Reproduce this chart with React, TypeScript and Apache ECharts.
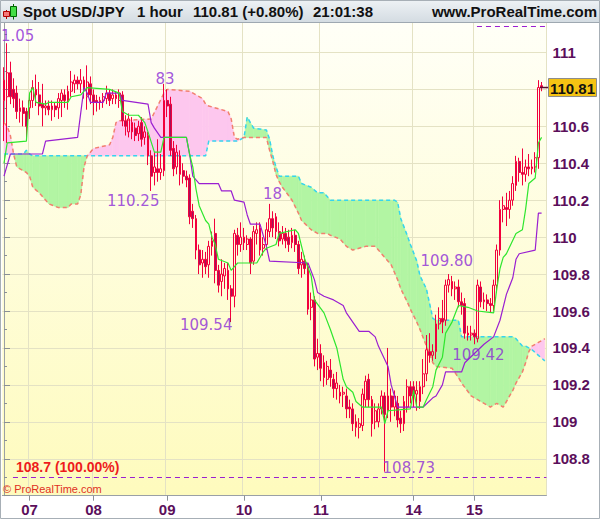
import React, { useEffect, useRef } from 'react';
import * as echarts from 'echarts';

// Hourly USD/JPY candles: [open, close, low, high]
const candles: [number, number, number, number][] = [
  [110.74, 110.85, 110.52, 110.92], [110.76, 110.89, 110.51, 111.05], [110.89, 110.76, 110.72, 110.95],
  [110.80, 110.75, 110.70, 110.86], [110.78, 110.68, 110.64, 110.82], [110.68, 110.70, 110.62, 110.75],
  [110.70, 110.67, 110.60, 110.74], [110.68, 110.60, 110.54, 110.70], [110.70, 110.74, 110.64, 110.77],
  [110.74, 110.81, 110.70, 110.85], [110.80, 110.77, 110.71, 110.88], [110.77, 110.71, 110.66, 110.84],
  [110.72, 110.70, 110.60, 110.83], [110.70, 110.71, 110.66, 110.74], [110.71, 110.69, 110.66, 110.74],
  [110.69, 110.71, 110.63, 110.74], [110.71, 110.69, 110.65, 110.73], [110.70, 110.75, 110.64, 110.78],
  [110.74, 110.78, 110.65, 110.80], [110.77, 110.74, 110.70, 110.80], [110.74, 110.79, 110.69, 110.82],
  [110.79, 110.84, 110.76, 110.90], [110.83, 110.85, 110.78, 110.88], [110.85, 110.83, 110.80, 110.87],
  [110.83, 110.85, 110.78, 110.91], [110.85, 110.80, 110.75, 110.87], [110.76, 110.84, 110.69, 110.93],
  [110.83, 110.77, 110.72, 110.87], [110.77, 110.73, 110.66, 110.80], [110.74, 110.73, 110.68, 110.77],
  [110.73, 110.74, 110.69, 110.76], [110.74, 110.76, 110.70, 110.78], [110.75, 110.78, 110.72, 110.82],
  [110.78, 110.74, 110.71, 110.80], [110.75, 110.77, 110.72, 110.80], [110.77, 110.75, 110.72, 110.79],
  [110.74, 110.78, 110.70, 110.80], [110.77, 110.63, 110.60, 110.79], [110.63, 110.60, 110.55, 110.66],
  [110.57, 110.64, 110.54, 110.67], [110.62, 110.57, 110.53, 110.65], [110.59, 110.55, 110.52, 110.62],
  [110.56, 110.60, 110.52, 110.63], [110.62, 110.53, 110.49, 110.65], [110.54, 110.57, 110.50, 110.60],
  [110.55, 110.44, 110.39, 110.57], [110.44, 110.33, 110.25, 110.47], [110.35, 110.38, 110.28, 110.46],
  [110.37, 110.35, 110.30, 110.53], [110.35, 110.37, 110.31, 110.45], [110.36, 110.74, 110.33, 110.83],
  [110.74, 110.71, 110.65, 110.80], [110.72, 110.47, 110.44, 110.76], [110.48, 110.37, 110.33, 110.52],
  [110.38, 110.46, 110.34, 110.50], [110.44, 110.34, 110.28, 110.47], [110.36, 110.33, 110.29, 110.40],
  [110.33, 110.31, 110.27, 110.36], [110.32, 110.11, 110.07, 110.34], [110.14, 110.10, 110.05, 110.18],
  [110.10, 109.93, 109.88, 110.12], [109.93, 109.85, 109.80, 109.96], [109.86, 109.88, 109.78, 109.93],
  [109.88, 109.84, 109.80, 109.92], [109.85, 109.95, 109.78, 109.98], [109.95, 109.98, 109.90, 110.03],
  [110.02, 109.82, 109.75, 110.10], [109.82, 109.74, 109.70, 109.85], [109.76, 109.80, 109.68, 109.88],
  [109.79, 109.83, 109.72, 109.86], [109.82, 109.72, 109.66, 109.86], [109.72, 109.68, 109.54, 109.74],
  [109.68, 110.02, 109.62, 110.04], [110.01, 109.96, 109.90, 110.05], [109.96, 110.00, 109.92, 110.08],
  [110.00, 109.97, 109.93, 110.05], [109.96, 109.99, 109.93, 110.01], [109.99, 109.86, 109.80, 110.00],
  [109.87, 110.03, 109.85, 110.06], [110.02, 110.04, 109.96, 110.08], [110.05, 109.93, 109.90, 110.08],
  [109.94, 109.96, 109.90, 110.00], [109.96, 110.04, 109.93, 110.08], [110.03, 110.10, 110.00, 110.18],
  [110.10, 110.05, 110.00, 110.14], [110.11, 110.03, 109.99, 110.13], [110.03, 109.98, 109.95, 110.08],
  [109.99, 110.02, 109.96, 110.06], [110.02, 109.98, 109.94, 110.05], [110.00, 109.96, 109.92, 110.04],
  [109.97, 110.01, 109.94, 110.05], [110.01, 109.96, 109.92, 110.04], [109.96, 109.83, 109.80, 109.98],
  [109.85, 109.88, 109.78, 109.92], [109.87, 109.83, 109.80, 109.90], [109.84, 109.61, 109.58, 109.86],
  [109.62, 109.66, 109.55, 109.70], [109.66, 109.34, 109.30, 109.68], [109.35, 109.37, 109.28, 109.45],
  [109.37, 109.29, 109.22, 109.42], [109.32, 109.24, 109.19, 109.36], [109.23, 109.30, 109.20, 109.33],
  [109.28, 109.24, 109.19, 109.34], [109.23, 109.18, 109.13, 109.26], [109.18, 109.21, 109.12, 109.27],
  [109.16, 109.14, 109.10, 109.20], [109.15, 109.16, 109.08, 109.19], [109.14, 109.07, 109.02, 109.18],
  [109.08, 109.07, 109.02, 109.12], [109.07, 108.99, 108.95, 109.10], [109.00, 108.97, 108.92, 109.04],
  [108.97, 108.99, 108.91, 109.02], [108.98, 109.15, 108.95, 109.18], [109.12, 109.22, 109.08, 109.25],
  [109.23, 109.12, 109.08, 109.26], [109.12, 108.99, 108.92, 109.14], [109.00, 109.06, 108.96, 109.10],
  [109.00, 109.07, 108.97, 109.10], [109.07, 109.14, 109.04, 109.17], [109.14, 109.04, 108.73, 109.16],
  [109.06, 109.14, 109.02, 109.40], [109.14, 109.08, 109.00, 109.18], [109.08, 109.14, 109.03, 109.17],
  [109.10, 109.01, 108.97, 109.14], [109.02, 108.99, 108.94, 109.06], [108.99, 109.11, 108.95, 109.14],
  [109.08, 109.19, 109.05, 109.23], [109.19, 109.14, 109.10, 109.22], [109.19, 109.15, 109.08, 109.22],
  [109.15, 109.17, 109.06, 109.22], [109.11, 109.19, 109.07, 109.22], [109.19, 109.26, 109.15, 109.34],
  [109.26, 109.39, 109.22, 109.47], [109.38, 109.36, 109.32, 109.48], [109.36, 109.38, 109.33, 109.42],
  [109.38, 109.53, 109.34, 109.58], [109.53, 109.56, 109.50, 109.62], [109.56, 109.54, 109.48, 109.66],
  [109.55, 109.74, 109.52, 109.77], [109.74, 109.77, 109.70, 109.80], [109.76, 109.72, 109.68, 109.79],
  [109.72, 109.73, 109.66, 109.76], [109.73, 109.65, 109.62, 109.77], [109.65, 109.63, 109.58, 109.70],
  [109.64, 109.48, 109.45, 109.67], [109.48, 109.47, 109.44, 109.52], [109.47, 109.48, 109.44, 109.52],
  [109.48, 109.46, 109.42, 109.50], [109.45, 109.74, 109.43, 109.77], [109.73, 109.65, 109.62, 109.76],
  [109.65, 109.66, 109.61, 109.70], [109.66, 109.64, 109.60, 109.69], [109.64, 109.63, 109.59, 109.67],
  [109.63, 109.74, 109.60, 109.77], [109.74, 109.93, 109.70, 109.96], [109.93, 110.15, 109.90, 110.20],
  [110.15, 110.17, 110.08, 110.22], [110.16, 110.15, 110.06, 110.24], [110.15, 110.20, 110.10, 110.25],
  [110.20, 110.29, 110.17, 110.33], [110.28, 110.41, 110.25, 110.44], [110.41, 110.35, 110.30, 110.43],
  [110.35, 110.34, 110.28, 110.48], [110.34, 110.38, 110.30, 110.42], [110.38, 110.37, 110.33, 110.45],
  [110.37, 110.38, 110.34, 110.42], [110.38, 110.43, 110.35, 110.46], [110.43, 110.81, 110.37, 110.85],
  [110.82, 110.81, 110.79, 110.84],
];

// One slot per hour; the cloud runs one slot past the last candle
const slotCount = 170;
const dayLabels = ['07', '08', '09', '10', '11', '14', '15'];
const dayStartIdx = [8, 28, 51, 75, 99, 128, 147];

// Ichimoku conversion line (tenkan) and base line (kijun): [slot, price]
const tenkan: [number, number][] = [
  [0, 110.40], [1, 110.51], [7, 110.52], [8, 110.78], [9, 110.81], [10, 110.73], [13, 110.72], [14, 110.73],
  [20, 110.73], [21, 110.76], [24, 110.77], [26, 110.81], [33, 110.80], [36, 110.78], [37, 110.68], [39, 110.66],
  [42, 110.66], [44, 110.62], [45, 110.57], [47, 110.46], [49, 110.46], [50, 110.54], [57, 110.54], [58, 110.45],
  [59, 110.38], [60, 110.26], [61, 110.17], [63, 110.09], [64, 110.07], [65, 110.00], [66, 109.96], [67, 109.88],
  [70, 109.86], [71, 109.82], [72, 109.84], [73, 109.86], [79, 109.86], [81, 109.92], [82, 109.94], [85, 109.96],
  [86, 110.02], [91, 110.04], [92, 110.02], [93, 109.95], [94, 109.88], [96, 109.79], [97, 109.66], [100, 109.59],
  [102, 109.50], [104, 109.40], [106, 109.23], [107, 109.19], [109, 109.16], [110, 109.11], [112, 109.08],
  [118, 109.08], [119, 108.99], [120, 109.06], [127, 109.07], [128, 109.17], [129, 109.08], [131, 109.08],
  [132, 109.12], [134, 109.19], [135, 109.28], [137, 109.35], [138, 109.48], [140, 109.54], [142, 109.63],
  [145, 109.62], [148, 109.60], [153, 109.59], [154, 109.72], [155, 109.83], [156, 109.89], [157, 109.91],
  [160, 110.02], [162, 110.04], [163, 110.15], [164, 110.29], [166, 110.32], [167, 110.51], [168, 110.54],
];

const kijun: [number, number][] = [
  [0, 110.33], [2, 110.45], [12, 110.45], [13, 110.52], [23, 110.54], [25, 110.81], [26, 110.78], [27, 110.73],
  [31, 110.73], [32, 110.78], [36, 110.78], [37, 110.74], [45, 110.72], [46, 110.62], [47, 110.59], [49, 110.54],
  [57, 110.54], [58, 110.45], [59, 110.33], [61, 110.29], [67, 110.29], [68, 110.25], [71, 110.25], [72, 110.20],
  [75, 110.19], [76, 110.12], [77, 110.07], [80, 110.07], [82, 109.95], [83, 109.87], [95, 109.86], [97, 109.77],
  [98, 109.70], [100, 109.68], [103, 109.66], [106, 109.63], [107, 109.59], [111, 109.49], [114, 109.49],
  [116, 109.46], [117, 109.41], [120, 109.30], [121, 109.20], [123, 109.08], [131, 109.08], [134, 109.13],
  [135, 109.14], [137, 109.20], [138, 109.27], [143, 109.27], [144, 109.32], [150, 109.42], [153, 109.46],
  [155, 109.55], [157, 109.69], [159, 109.78], [160, 109.88], [161, 109.91], [166, 109.93], [167, 110.13],
  [168, 110.13],
];

// Cloud (leading spans A and B, already shifted forward), sampled at shared slots
const cloudIdx = [
  0, 1, 2, 3, 4, 5, 6, 7, 8, 9, 11, 14, 17, 20, 21, 23, 24, 25, 26, 28, 33, 34, 35, 36, 46, 50, 51, 58, 62, 63,
  64, 70, 71, 72, 73, 75, 76, 78, 82, 83, 84, 85, 86, 87, 90, 92, 93, 96, 98, 100, 101, 102, 105, 107, 109, 113,
  116, 117, 121, 122, 123, 124, 126, 127, 129, 130, 132, 133, 134, 135, 140, 142, 143, 146, 148, 152, 154, 156,
  158, 159, 160, 162, 163, 164, 165, 167, 169,
];
const spanA = [
  110.45, 110.45, 110.45, 110.45, 110.45, 110.45, 110.45, 110.47, 110.45, 110.44, 110.44, 110.44, 110.44, 110.44,
  110.44, 110.44, 110.44, 110.44, 110.44, 110.44, 110.44, 110.44, 110.44, 110.44, 110.44, 110.44, 110.44, 110.44,
  110.44, 110.44, 110.52, 110.52, 110.52, 110.52, 110.52, 110.54, 110.65, 110.59, 110.58, 110.53, 110.44, 110.38,
  110.33, 110.33, 110.33, 110.33, 110.29, 110.27, 110.24, 110.24, 110.22, 110.20, 110.20, 110.20, 110.20, 110.20,
  110.20, 110.20, 110.20, 110.20, 110.19, 110.10, 110.01, 109.96, 109.87, 109.79, 109.72, 109.64, 109.56, 109.55,
  109.55, 109.55, 109.46, 109.46, 109.46, 109.46, 109.46, 109.46, 109.46, 109.46, 109.45, 109.41, 109.41, 109.40,
  109.39, 109.36, 109.33,
];
const spanB = [
  110.62, 110.60, 110.55, 110.45, 110.38, 110.37, 110.36, 110.35, 110.33, 110.27, 110.24, 110.18, 110.16, 110.16,
  110.18, 110.18, 110.23, 110.38, 110.44, 110.48, 110.50, 110.54, 110.62, 110.63, 110.64, 110.78, 110.80, 110.79,
  110.75, 110.72, 110.71, 110.68, 110.64, 110.54, 110.53, 110.54, 110.54, 110.54, 110.54, 110.47, 110.41, 110.34,
  110.30, 110.27, 110.20, 110.13, 110.09, 110.04, 110.02, 110.02, 110.02, 110.01, 109.99, 109.95, 109.93, 109.95,
  109.95, 109.93, 109.85, 109.81, 109.77, 109.72, 109.65, 109.61, 109.54, 109.50, 109.41, 109.37, 109.32, 109.30,
  109.29, 109.24, 109.21, 109.14, 109.12, 109.08, 109.10, 109.08, 109.14, 109.17, 109.21, 109.27, 109.32, 109.38,
  109.41, 109.43, 109.45,
];

// Swing highs / lows that carry a price tag
const swingIdx = [1, 50, 46, 83, 71, 119, 139, 147];
const swingPrice = [111.05, 110.83, 110.25, 110.18, 109.54, 108.73, 109.8, 109.42];
const swingText = ['1.05', '83', '110.25', '18', '109.54', '108.73', '109.80', '109.42'];
const swingOffsets: [number, number][] = [
  [10.5, -7], [1, -5], [-18, 10], [3, -10], [-25, 3], [24, -4], [-2, -13], [4, 11],
];

// Retracement levels
const fibLow = 108.7;
const fibHigh = 111.14;
const fibLowText = '108.7 (100.00%)';

const lastClose = 110.81;
const headerTexts = ['Spot USD/JPY', '1 hour', '110.81 (+0.80%)', '21:01:38'];

const RED = '#f2003c';
const DARK = '#a3125a';
const AXIS_TXT = '#5b0f5b';
const LABEL_PURPLE = '#8b2bd6';
const FIB_PURPLE = '#9a1fd1';
const CLOUD_UP = '#b2f5a3';
const CLOUD_DOWN = '#fdc7ee';
const SANS = "'Liberation Sans', Arial, sans-serif";

// Fill between the two spans, one polygon per segment, split where they cross
function renderCloud(_params: any, api: any) {
  const x0 = api.value(0), a0 = api.value(1), b0 = api.value(2);
  const x1 = api.value(3), a1 = api.value(4), b1 = api.value(5);
  const d0 = a0 - b0;
  const d1 = a1 - b1;
  const poly = (pts: number[][], up: boolean) => {
    const color = up ? CLOUD_UP : CLOUD_DOWN;
    return {
      type: 'polygon',
      shape: { points: pts.map((p) => api.coord(p)) },
      style: { fill: color, stroke: color, lineWidth: 0.6 },
    };
  };
  const children: any[] = [];
  if (d0 * d1 < 0) {
    const t = d0 / (d0 - d1);
    const xm = x0 + t * (x1 - x0);
    const ym = a0 + t * (a1 - a0);
    children.push(poly([[x0, a0], [xm, ym], [x0, b0]], d0 > 0));
    children.push(poly([[xm, ym], [x1, a1], [x1, b1]], d1 > 0));
  } else {
    children.push(poly([[x0, a0], [x1, a1], [x1, b1], [x0, b0]], d0 + d1 >= 0));
  }
  return { type: 'group', children };
}

export default function App() {
  const ref = useRef<HTMLDivElement>(null);

  useEffect(() => {
    const el = ref.current;
    if (!el) return;
    const chart = echarts.init(el, null, { renderer: 'svg' });

    const isDayStart = (index: number) => dayStartIdx.includes(index);
    const slots = Array.from({ length: slotCount }, (_, i) => String(i));

    const cloudSegments = cloudIdx.slice(0, -1).map((x, k) => [
      x, spanA[k], spanB[k], cloudIdx[k + 1], spanA[k + 1], spanB[k + 1],
    ]);

    const fibLineStyle = { color: FIB_PURPLE, width: 1.2, type: [5, 4] };

    const option: any = {
      animation: false,
      grid: {
        left: 2.4,
        right: 53.6,
        top: 15.5,
        bottom: 23.3,
        show: true,
        borderWidth: 0,
        backgroundColor: new echarts.graphic.LinearGradient(0, 0, 0, 1, [
          { offset: 0, color: '#fffff8' },
          { offset: 1, color: '#fefbbd' },
        ]),
      },
      xAxis: [
        {
          type: 'category',
          data: slots,
          boundaryGap: true,
          axisLine: { lineStyle: { color: '#9aa0a6', width: 1 } },
          axisTick: {
            show: true,
            alignWithLabel: true,
            interval: (i: number) => isDayStart(i),
            length: 5,
            lineStyle: { color: '#8a9096' },
          },
          axisLabel: {
            interval: (i: number) => isDayStart(i),
            formatter: (_v: string, i: number) => {
              const k = dayStartIdx.indexOf(i);
              return k >= 0 ? dayLabels[k] : '';
            },
            color: AXIS_TXT,
            fontWeight: 'bold',
            fontSize: 15,
            fontFamily: SANS,
            margin: 6,
          },
          splitLine: {
            show: true,
            interval: (i: number) => isDayStart(i),
            lineStyle: { color: '#e4e2c4', width: 1 },
          },
        },
        {
          type: 'value',
          min: -0.5,
          max: slotCount - 0.5,
          show: false,
        },
      ],
      yAxis: {
        type: 'value',
        position: 'right',
        min: 108.6,
        max: 111.2,
        interval: 0.2,
        axisLine: { show: true, lineStyle: { color: '#9aa0a6' } },
        axisTick: { show: true, length: 6, lineStyle: { color: '#8a9096' } },
        minorTick: { show: true, splitNumber: 2, length: 3, lineStyle: { color: '#8a9096' } },
        splitLine: { show: true, lineStyle: { color: '#e4e2c4', width: 1 } },
        axisLabel: {
          color: AXIS_TXT,
          fontWeight: 'bold',
          fontSize: 15,
          fontFamily: SANS,
          margin: 6,
          formatter: (v: number) =>
            v > 111.1 || v < 108.7 || Math.abs(v - lastClose) < 0.05 ? '' : String(+v.toFixed(1)),
        },
      },
      series: [
        {
          name: 'cloud',
          type: 'custom',
          xAxisIndex: 1,
          renderItem: renderCloud,
          data: cloudSegments,
          encode: { x: [0, 3], y: [1, 2, 4, 5] },
          clip: true,
          silent: true,
          z: 1,
        },
        {
          name: 'spanA',
          type: 'line',
          xAxisIndex: 1,
          data: cloudIdx.map((x, k) => [x, spanA[k]]),
          showSymbol: false,
          lineStyle: { color: '#36d5ee', width: 1.5, type: [4, 3] },
          z: 2,
        },
        {
          name: 'spanB',
          type: 'line',
          xAxisIndex: 1,
          data: cloudIdx.map((x, k) => [x, spanB[k]]),
          showSymbol: false,
          lineStyle: { color: '#f2806f', width: 1.5, type: [4, 3] },
          z: 2,
        },
        {
          name: 'USD/JPY',
          type: 'candlestick',
          xAxisIndex: 0,
          data: candles,
          barWidth: 2.2,
          itemStyle: {
            color: 'rgba(255,255,255,0)',
            color0: DARK,
            borderColor: RED,
            borderColor0: RED,
            borderColorDoji: RED,
            borderWidth: 1,
          },
          z: 3,
        },
        {
          name: 'kijun',
          type: 'line',
          xAxisIndex: 1,
          data: kijun,
          showSymbol: false,
          lineStyle: { color: '#9a1fd1', width: 1.2 },
          z: 4,
          markLine: {
            silent: true,
            symbol: ['none', 'none'],
            lineStyle: fibLineStyle,
            label: {
              show: true,
              position: 'insideStartTop',
              distance: 3,
              color: '#ee1c1c',
              fontWeight: 'bold',
              fontSize: 14,
              fontFamily: SANS,
            },
            data: [
              [
                { coord: [2.8, fibLow], label: { formatter: fibLowText }, lineStyle: fibLineStyle },
                { coord: [slotCount - 0.5, fibLow] },
              ],
              [
                { coord: [147.8, fibHigh], label: { show: false }, lineStyle: fibLineStyle },
                { coord: [slotCount - 0.5, fibHigh] },
              ],
            ],
          },
        },
        {
          name: 'tenkan',
          type: 'line',
          xAxisIndex: 1,
          data: tenkan,
          showSymbol: false,
          lineStyle: { color: '#2ee62e', width: 1.2 },
          z: 4,
        },
        {
          name: 'swings',
          type: 'scatter',
          xAxisIndex: 1,
          symbolSize: 1,
          itemStyle: { color: 'rgba(0,0,0,0)' },
          z: 5,
          data: swingIdx.map((x, k) => ({
            value: [x, swingPrice[k]],
            label: { offset: swingOffsets[k] },
          })),
          label: {
            show: true,
            position: 'inside',
            formatter: (p: any) => swingText[p.dataIndex],
            color: LABEL_PURPLE,
            fontSize: 15,
            fontFamily: "'DejaVu Sans', sans-serif",
          },
        },
      ],
    };

    chart.setOption(option);

    const yLast = chart.convertToPixel({ yAxisIndex: 0 }, lastClose) as number;
    const headerFont = `bold 15px ${SANS}`;
    const headerX = [23, 137, 193, 313];

    chart.setOption({
      graphic: [
        {
          type: 'rect',
          z: 100,
          shape: { x: 0, y: 0, width: 600, height: 22 },
          style: {
            fill: new echarts.graphic.LinearGradient(0, 0, 0, 1, [
              { offset: 0, color: '#eef2f5' },
              { offset: 1, color: '#d4dce2' },
            ]),
          },
        },
        {
          type: 'line',
          z: 101,
          shape: { x1: 0, y1: 22.5, x2: 600, y2: 22.5 },
          style: { stroke: '#9ea8b1', lineWidth: 1 },
        },
        // small candle icon
        { type: 'line', z: 101, shape: { x1: 6.5, y1: 10, x2: 6.5, y2: 19 }, style: { stroke: '#b00000', lineWidth: 1 } },
        { type: 'rect', z: 102, shape: { x: 3.5, y: 11.5, width: 6, height: 5 }, style: { fill: '#f47a7a', stroke: '#b00000', lineWidth: 1 } },
        { type: 'line', z: 101, shape: { x1: 13.5, y1: 4, x2: 13.5, y2: 19.5 }, style: { stroke: '#006600', lineWidth: 1 } },
        { type: 'rect', z: 102, shape: { x: 10.5, y: 6.5, width: 6, height: 10 }, style: { fill: '#44dd44', stroke: '#006600', lineWidth: 1 } },
        ...headerTexts.map((t, k) => ({
          type: 'text',
          z: 102,
          x: headerX[k],
          y: 11.5,
          style: { text: t, font: headerFont, fill: '#111', textVerticalAlign: 'middle', textAlign: 'left' },
        })),
        {
          type: 'text',
          z: 102,
          x: 597,
          y: 11.5,
          style: { text: 'www.ProRealTime.com', font: headerFont, fill: '#111', textVerticalAlign: 'middle', textAlign: 'right' },
        },
        // last price tag
        {
          type: 'line',
          z: 100,
          shape: { x1: 540, y1: yLast, x2: 548, y2: yLast },
          style: { stroke: '#5a1030', lineWidth: 1.5 },
        },
        {
          type: 'rect',
          z: 100,
          shape: { x: 548.5, y: yLast - 9, width: 48, height: 18 },
          style: { fill: '#f5c313', stroke: '#8c8c8c', lineWidth: 1 },
        },
        {
          type: 'text',
          z: 101,
          x: 572.5,
          y: yLast + 0.5,
          style: { text: lastClose.toFixed(2), font: headerFont, fill: '#111', textAlign: 'center', textVerticalAlign: 'middle' },
        },
        {
          type: 'text',
          z: 100,
          x: 3,
          y: 489,
          style: { text: '© ProRealTime.com', font: `11px ${SANS}`, fill: '#e0301e', textVerticalAlign: 'middle' },
        },
        {
          type: 'rect',
          z: 103,
          shape: { x: 0.5, y: 0.5, width: 599, height: 518 },
          style: { fill: 'none', stroke: '#a7afb6', lineWidth: 1 },
        },
      ],
    });

    return () => chart.dispose();
  }, []);

  return (
    <>
      <style>{'html,body{margin:0;padding:0;background:#fff;}'}</style>
      <div ref={ref} style={{ width: 600, height: 519 }} />
    </>
  );
}
